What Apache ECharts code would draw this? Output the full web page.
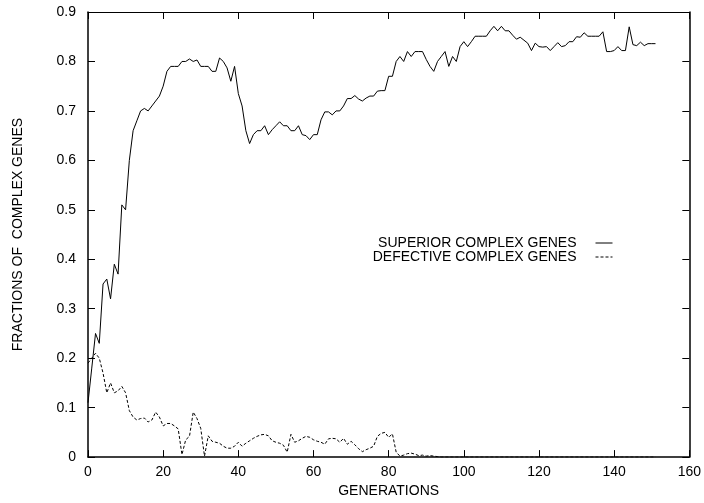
<!DOCTYPE html>
<html>
<head>
<meta charset="utf-8">
<script src="https://cdn.jsdelivr.net/npm/echarts@6/dist/echarts.min.js"></script>
<style>
  html, body { margin: 0; padding: 0; background: #fff; }
  #chart { width: 704px; height: 503px; }
</style>
</head>
<body>
<div id="chart"></div>
<script>
// Fraction of superior / defective complex genes per generation (generation 0..151)
const superiorGenes = [
  0.11, 0.18, 0.25, 0.23, 0.35, 0.36, 0.32, 0.39, 0.37, 0.51,
  0.50, 0.60, 0.66, 0.68, 0.70, 0.705, 0.70, 0.71, 0.72, 0.73,
  0.75, 0.78, 0.79, 0.79, 0.79, 0.80, 0.80, 0.805, 0.80, 0.803,
  0.79, 0.79, 0.79, 0.78, 0.78, 0.807, 0.80, 0.787, 0.76, 0.79,
  0.735, 0.71, 0.66, 0.634, 0.652, 0.66, 0.66, 0.67, 0.652, 0.662,
  0.67, 0.678, 0.67, 0.67, 0.66, 0.66, 0.67, 0.652, 0.65, 0.642,
  0.652, 0.652, 0.682, 0.698, 0.698, 0.692, 0.70, 0.70, 0.71, 0.725,
  0.725, 0.731, 0.724, 0.72, 0.726, 0.73, 0.73, 0.74, 0.741, 0.741,
  0.77, 0.77, 0.80, 0.81, 0.80, 0.82, 0.81, 0.82, 0.82, 0.82,
  0.804, 0.79, 0.78, 0.80, 0.81, 0.82, 0.79, 0.81, 0.80, 0.83,
  0.84, 0.83, 0.84, 0.851, 0.851, 0.851, 0.851, 0.862, 0.871, 0.862,
  0.871, 0.862, 0.862, 0.853, 0.845, 0.849, 0.843, 0.837, 0.822, 0.837,
  0.83, 0.829, 0.83, 0.822, 0.83, 0.838, 0.83, 0.832, 0.84, 0.84,
  0.85, 0.849, 0.858, 0.851, 0.851, 0.851, 0.851, 0.86, 0.82, 0.82,
  0.822, 0.83, 0.822, 0.822, 0.87, 0.834, 0.832, 0.839, 0.832, 0.836,
  0.836, 0.836
];

const defectiveGenes = [
  0.19, 0.20, 0.21, 0.20, 0.17, 0.13, 0.15, 0.13, 0.134, 0.143,
  0.13, 0.094, 0.081, 0.075, 0.078, 0.079, 0.071, 0.075, 0.091, 0.081,
  0.063, 0.068, 0.068, 0.063, 0.057, 0.005, 0.035, 0.042, 0.091, 0.078,
  0.058, 0.002, 0.043, 0.032, 0.03, 0.028, 0.022, 0.018, 0.018, 0.022,
  0.03, 0.022, 0.028, 0.033, 0.038, 0.042, 0.045, 0.046, 0.043, 0.033,
  0.03, 0.028, 0.024, 0.01, 0.046, 0.03, 0.033, 0.038, 0.042, 0.04,
  0.035, 0.032, 0.03, 0.026, 0.037, 0.038, 0.037, 0.03, 0.038, 0.026,
  0.032, 0.025, 0.017, 0.011, 0.015, 0.018, 0.022, 0.042, 0.048, 0.05,
  0.04, 0.047, 0.01, 0.002, 0.004, 0.007, 0.008, 0.006, 0.003, 0.004,
  0.002, 0.003, 0.002, 0.001, 0, 0, 0, 0, 0, 0,
  0, 0, 0, 0, 0, 0, 0, 0, 0, 0,
  0, 0, 0, 0, 0, 0, 0, 0, 0, 0,
  0, 0, 0, 0, 0, 0, 0, 0, 0, 0,
  0, 0, 0, 0, 0, 0, 0, 0, 0, 0,
  0, 0, 0, 0, 0, 0, 0, 0, 0, 0,
  0, 0
];

const xTickStep = 20;   // generations between x ticks
const yTickStep = 0.1;  // fraction between y ticks
const seriesNames = ['SUPERIOR COMPLEX GENES', 'DEFECTIVE COMPLEX GENES'];
const xTitle = 'GENERATIONS';
const yTitle = 'FRACTIONS OF  COMPLEX GENES';

const FONT = "'Liberation Sans', Arial, Helvetica, sans-serif";

function toPairs(values) {
  return values.map((v, i) => [i, v]);
}

const chart = echarts.init(document.getElementById('chart'), null, { renderer: 'canvas' });

const tickStyle = { show: true, inside: true, length: 7, lineStyle: { color: '#000', width: 1 } };
const axisLine = { show: true, onZero: false, lineStyle: { color: '#000', width: 1.5 } };

chart.setOption({
  animation: false,
  backgroundColor: '#fff',
  textStyle: { fontFamily: FONT },
  grid: { left: 88, right: 12, top: 12, bottom: 37, containLabel: false },
  legend: {
    orient: 'vertical',
    align: 'right',
    right: 86,
    top: 231,
    itemGap: 0,
    itemWidth: 17,
    itemHeight: 14,
    selectedMode: false,
    // line-only key: hide the marker symbol that line series draw in the legend
    itemStyle: { opacity: 0, borderWidth: 0 },
    lineStyle: { width: 1 },
    textStyle: { fontFamily: FONT, fontSize: 14, color: '#000', padding: [0, 14, 0, 0] },
    data: seriesNames
  },
  xAxis: [
    {
      type: 'value', position: 'bottom', min: 0, max: 160, interval: xTickStep,
      name: xTitle, nameLocation: 'middle', nameGap: 22,
      nameTextStyle: { fontFamily: FONT, fontSize: 14, color: '#000' },
      axisLine: axisLine, axisTick: tickStyle,
      axisLabel: { margin: 8, fontFamily: FONT, fontSize: 14, color: '#000' },
      splitLine: { show: false }
    },
    {
      type: 'value', position: 'top', min: 0, max: 160, interval: xTickStep,
      axisLine: { show: true, onZero: false, lineStyle: { color: '#000', width: 1 } },
      axisTick: tickStyle, axisLabel: { show: false }, splitLine: { show: false }
    }
  ],
  yAxis: [
    {
      type: 'value', position: 'left', min: 0, max: 0.9, interval: yTickStep,
      name: yTitle, nameLocation: 'middle', nameGap: 63, nameRotate: 90,
      nameTextStyle: { fontFamily: FONT, fontSize: 14, color: '#000' },
      axisLine: axisLine, axisTick: tickStyle,
      axisLabel: { margin: 12, fontFamily: FONT, fontSize: 14, color: '#000',
                   formatter: v => (Math.round(v * 10) / 10).toString() },
      splitLine: { show: false }
    },
    {
      type: 'value', position: 'right', min: 0, max: 0.9, interval: yTickStep,
      axisLine: { show: true, onZero: false, lineStyle: { color: '#000', width: 1.5 } },
      axisTick: tickStyle, axisLabel: { show: false }, splitLine: { show: false }
    }
  ],
  series: [
    {
      name: seriesNames[0], type: 'line', xAxisIndex: 0, yAxisIndex: 0,
      data: toPairs(superiorGenes), symbol: 'none', showSymbol: false,
      lineStyle: { color: '#000', width: 1 }, itemStyle: { color: '#000' }
    },
    {
      name: seriesNames[1], type: 'line', xAxisIndex: 0, yAxisIndex: 0,
      data: toPairs(defectiveGenes), symbol: 'none', showSymbol: false,
      lineStyle: { color: '#000', width: 1, type: [3, 2] }, itemStyle: { color: '#000' }
    }
  ]
});
</script>
</body>
</html>
